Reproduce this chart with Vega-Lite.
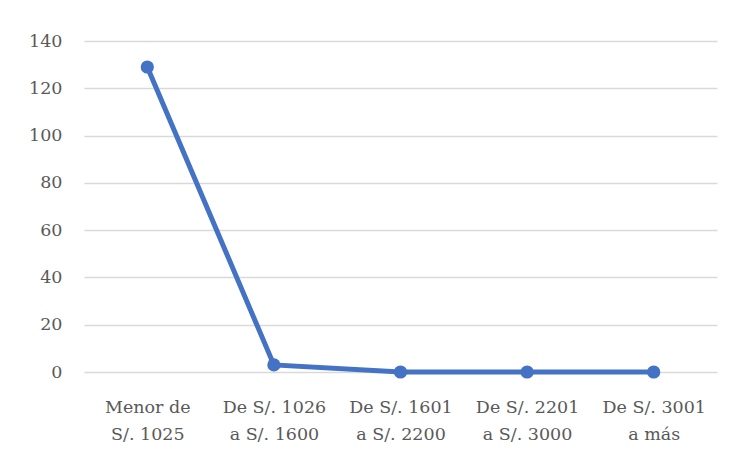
{
  "$schema": "https://vega.github.io/schema/vega-lite/v6.json",
  "autosize": {"type": "none"},
  "width": 633,
  "height": 331,
  "padding": {"left": 84, "top": 41, "right": 20, "bottom": 88},
  "background": "white",
  "config": {
    "view": {"stroke": null},
    "font": "DejaVu Serif"
  },
  "data": {
    "values": [
      {"rango": "Menor de S/. 1025", "orden": 1, "cantidad": 129},
      {"rango": "De S/. 1026 a S/. 1600", "orden": 2, "cantidad": 3},
      {"rango": "De S/. 1601 a S/. 2200", "orden": 3, "cantidad": 0},
      {"rango": "De S/. 2201 a S/. 3000", "orden": 4, "cantidad": 0},
      {"rango": "De S/. 3001 a más", "orden": 5, "cantidad": 0}
    ]
  },
  "mark": {
    "type": "line",
    "color": "#4472C4",
    "strokeWidth": 5,
    "point": {"filled": true, "size": 175, "color": "#4472C4", "opacity": 1}
  },
  "encoding": {
    "x": {
      "field": "rango",
      "type": "ordinal",
      "sort": {"field": "orden"},
      "scale": {"paddingInner": 0, "paddingOuter": 0.5},
      "axis": {
        "title": null,
        "domain": false,
        "ticks": false,
        "grid": false,
        "labelAngle": 0,
        "labelFont": "DejaVu Serif",
        "labelFontSize": 17.5,
        "labelColor": "#595959",
        "labelBaseline": "top",
        "labelPadding": 26,
        "labelLineHeight": 27,
        "labelLimit": 200,
        "labelExpr": "indexof(datum.label, ' a ') > 0 ? [substring(datum.label, 0, indexof(datum.label, ' a ')), substring(datum.label, indexof(datum.label, ' a ') + 1)] : ['Menor de', 'S/. 1025']"
      }
    },
    "y": {
      "field": "cantidad",
      "type": "quantitative",
      "scale": {"domain": [0, 140], "nice": false},
      "axis": {
        "title": null,
        "values": [0, 20, 40, 60, 80, 100, 120, 140],
        "domain": false,
        "ticks": false,
        "gridColor": "#D9D9D9",
        "gridWidth": 1.5,
        "labelFont": "DejaVu Serif",
        "labelFontSize": 17.5,
        "labelColor": "#595959",
        "labelPadding": 22
      }
    }
  }
}
